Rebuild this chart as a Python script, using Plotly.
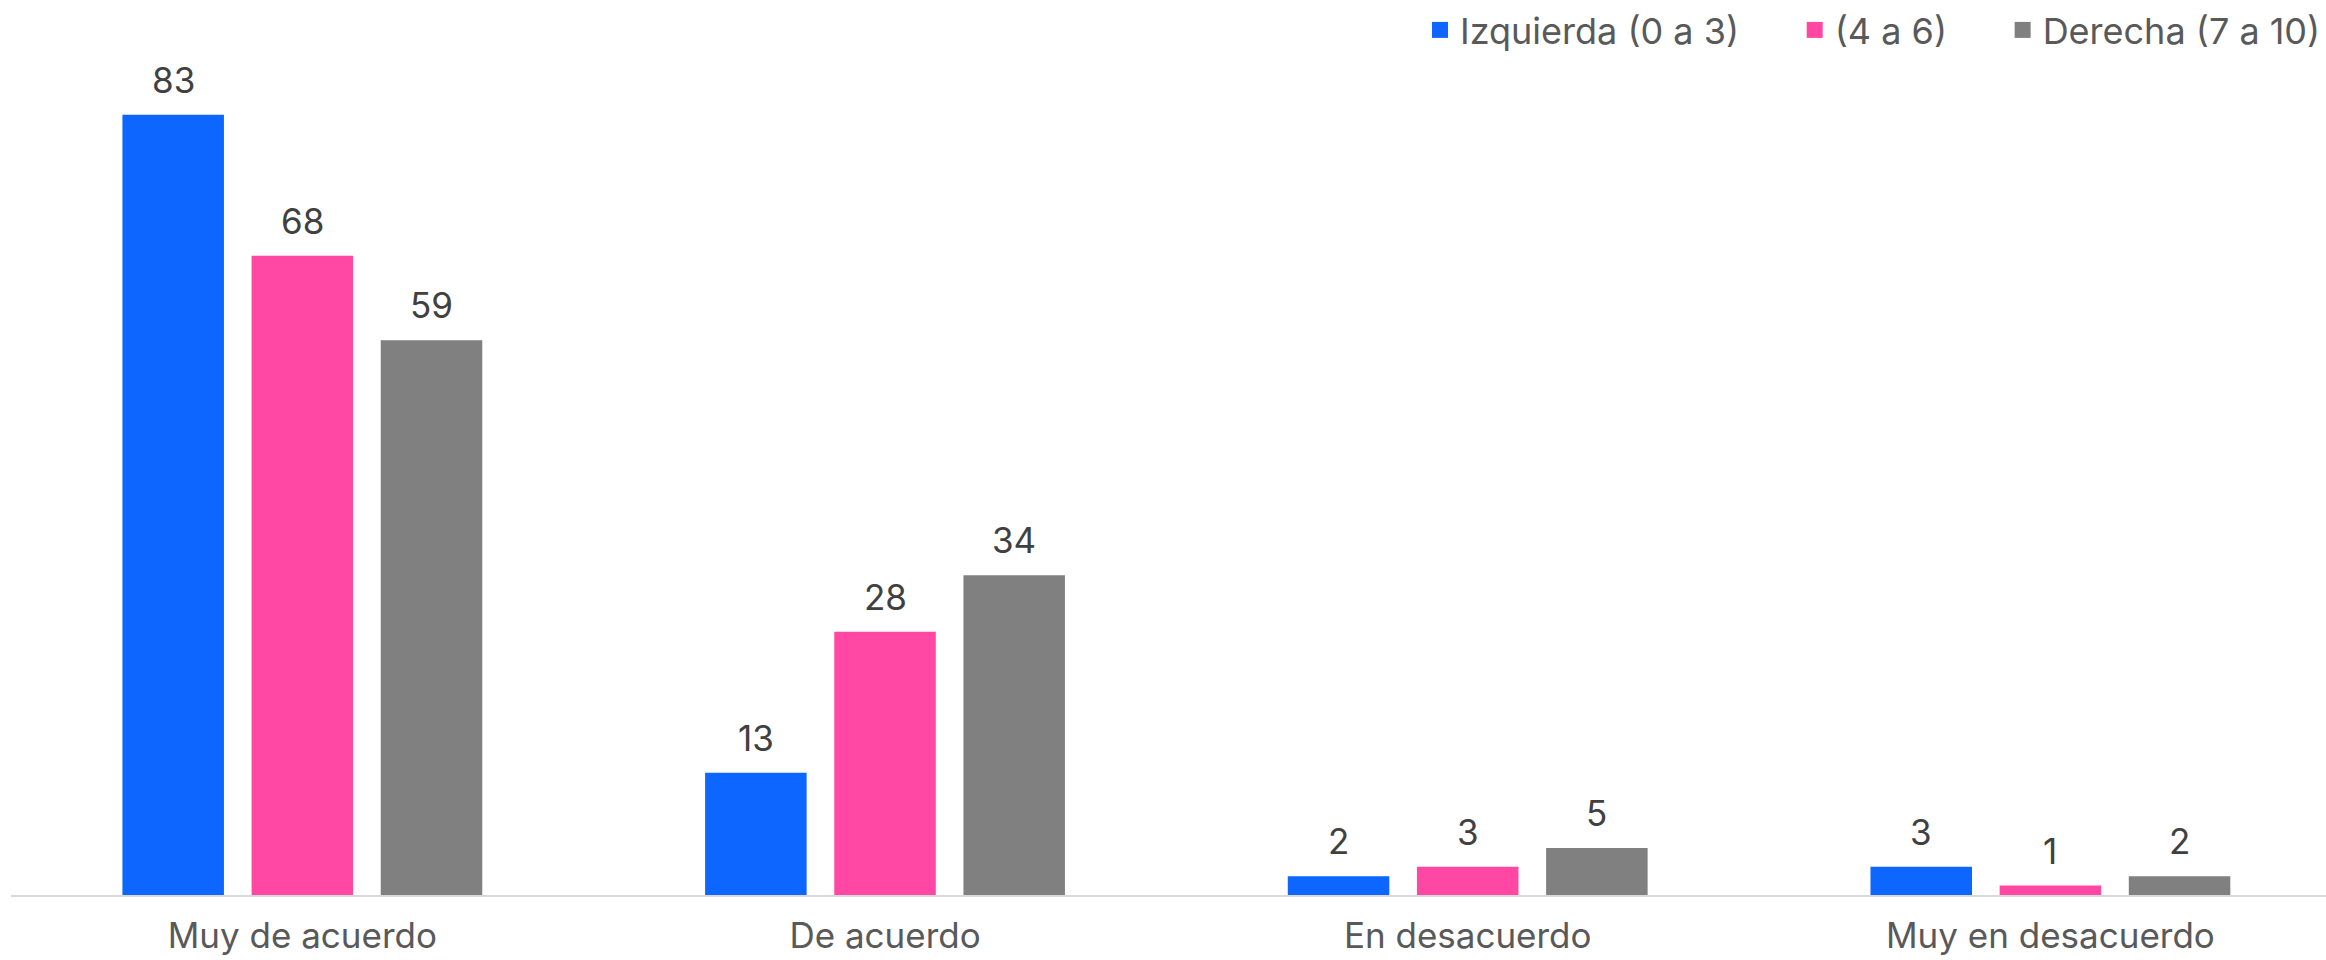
import plotly.graph_objects as go

categories = ["Muy de acuerdo", "De acuerdo", "En desacuerdo", "Muy en desacuerdo"]
series_names = ["Izquierda (0 a 3)", "(4 a 6)", "Derecha (7 a 10)"]
izquierda = [83, 13, 2, 3]
centro = [68, 28, 3, 1]
derecha = [59, 34, 5, 2]
colors = ["#0D66FF", "#FF47A3", "#808080"]

series_values = [izquierda, centro, derecha]

FONT = "Inter"
BARGAP = 0.335
BARGROUPGAP = 0.214
LEGEND_PAD = "\u00a0" * 5  # extra room between legend entries

fig = go.Figure()
for name, vals, col in zip(series_names, series_values, colors):
    fig.add_trace(go.Bar(
        name=name,
        x=categories,
        y=vals,
        marker=dict(color=col, line=dict(width=0)),
        showlegend=False,
        hoverinfo="x+y+name",
    ))

# legend entries with square swatches
for k, (name, col) in enumerate(zip(series_names, colors)):
    fig.add_trace(go.Scatter(
        name=name + (LEGEND_PAD if k < len(series_names) - 1 else ""),
        x=[None], y=[None],
        mode="markers",
        marker=dict(symbol="square", size=18, color=col),
        showlegend=True,
        hoverinfo="skip",
    ))

# value labels above each bar, placed at the bar's own slot inside the group
n_series = len(series_values)
slot = (1 - BARGAP) / n_series
annotations = []
for j, vals in enumerate(series_values):
    offset = (j - (n_series - 1) / 2) * slot
    for i, v in enumerate(vals):
        annotations.append(dict(
            x=i + offset, y=v, xref="x", yref="y",
            text=str(v), showarrow=False,
            yanchor="bottom", yshift=12,
            font=dict(family=FONT, size=35, color="#404040"),
        ))

fig.update_layout(
    width=2326, height=960,
    barmode="group",
    bargap=BARGAP,
    bargroupgap=BARGROUPGAP,
    plot_bgcolor="white",
    paper_bgcolor="white",
    margin=dict(l=11, r=0, t=0, b=65, autoexpand=False),
    font=dict(family=FONT, size=34, color="#595959"),
    showlegend=True,
    legend=dict(
        orientation="h",
        x=1, xanchor="right",
        y=1.0, yanchor="top",
        font=dict(family=FONT, size=36, color="#595959"),
        itemwidth=30,
        traceorder="normal",
        bgcolor="rgba(0,0,0,0)",
    ),
    annotations=annotations,
    xaxis=dict(
        type="category",
        range=[-0.5, 3.473],
        showline=True, linecolor="#D9D9D9", linewidth=2,
        showgrid=False, ticks="",
        tickfont=dict(family=FONT, size=35, color="#595959"),
        ticklabelstandoff=9,
        automargin=False,
        zeroline=False,
    ),
    yaxis=dict(
        range=[0, 95.2],
        visible=False,
        showgrid=False,
        zeroline=False,
        automargin=False,
    ),
)

fig.write_html("out.html")
